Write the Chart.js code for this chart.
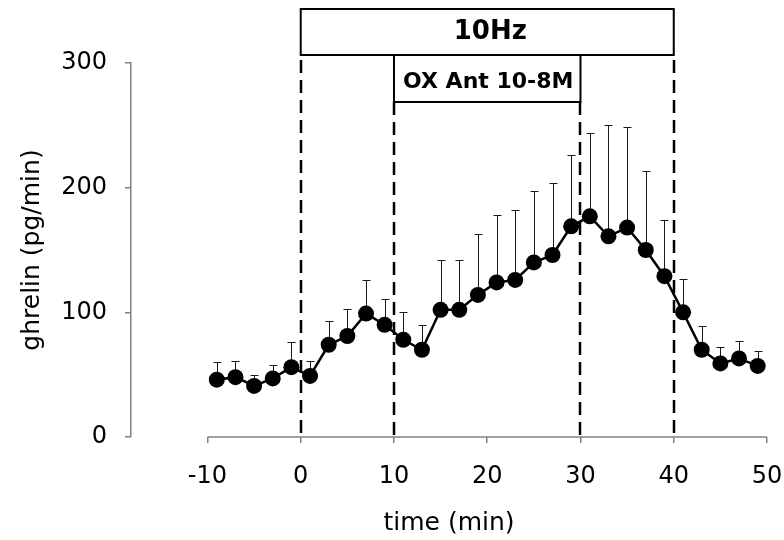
<!DOCTYPE html>
<html>
<head>
<meta charset="utf-8">
<script src="https://cdn.jsdelivr.net/npm/chart.js@4/dist/chart.umd.min.js"></script>
<style>
  html, body { margin: 0; padding: 0; background: #fff; }
  #wrap { width: 784px; height: 540px; position: relative; }
</style>
</head>
<body>
<div id="wrap"><canvas id="chart"></canvas></div>
<script>
// sampling times (min) and ghrelin output (pg/min), mean and SEM
const times = [-9, -7, -5, -3, -1, 1, 3, 5, 7, 9, 11, 13, 15, 17, 19, 21, 23, 25, 27, 29, 31, 33, 35, 37, 39, 41, 43, 45, 47, 49];
const ghrelin = [46, 48, 41, 47, 56, 49, 74, 81, 99, 90, 78, 70, 102, 102, 114, 124, 126, 140, 146, 169, 177, 161, 168, 150, 129, 100, 70, 59, 63, 57];
const sem = [14, 13, 9, 11, 20, 12, 19, 22, 27, 21, 22, 20, 40, 40, 49, 54, 56, 57, 58, 57, 67, 89, 81, 63, 45, 27, 19, 13, 14, 12];

const xTicks = [-10, 0, 10, 20, 30, 40, 50];
const yTicks = [0, 100, 200, 300];

// treatment periods (min)
const stimWindow = [0, 40];
const antWindow = [10, 30];
const stimLabel = '10Hz';
const antLabel = 'OX Ant 10-8M';

const axisGrey = '#808080';
const fontFamily = '"DejaVu Sans", sans-serif';

const periods = {
    id: 'periods',
    beforeDatasetsDraw(chart) {
        const {ctx, chartArea, scales: {x, y}} = chart;
        ctx.save();

        // x axis line only spans the labelled range
        ctx.strokeStyle = axisGrey;
        ctx.lineWidth = 1.5;
        ctx.beginPath();
        ctx.moveTo(x.getPixelForValue(xTicks[0]), chartArea.bottom);
        ctx.lineTo(x.getPixelForValue(xTicks[xTicks.length - 1]), chartArea.bottom);
        ctx.stroke();

        // dashed lines marking the periods
        ctx.strokeStyle = '#000';
        ctx.lineWidth = 2.5;
        ctx.setLineDash([13, 7]);
        const stimBottom = chartArea.top - 8;
        const antBottom = chartArea.top + 39;
        stimWindow.forEach(t => {
            const px = Math.round(x.getPixelForValue(t));
            ctx.beginPath();
            ctx.moveTo(px, stimBottom + 5);
            ctx.lineTo(px, chartArea.bottom);
            ctx.stroke();
        });
        antWindow.forEach(t => {
            const px = Math.round(x.getPixelForValue(t));
            ctx.beginPath();
            ctx.moveTo(px, antBottom);
            ctx.lineTo(px, chartArea.bottom);
            ctx.stroke();
        });
        ctx.setLineDash([]);

        // SEM error bars (upper only)
        ctx.strokeStyle = '#1a1a1a';
        ctx.lineWidth = 1;
        times.forEach((t, i) => {
            const px = Math.round(x.getPixelForValue(t)) + 0.5;
            const y0 = y.getPixelForValue(ghrelin[i]);
            const y1 = Math.round(y.getPixelForValue(ghrelin[i] + sem[i])) + 0.5;
            ctx.beginPath();
            ctx.moveTo(px, y0);
            ctx.lineTo(px, y1);
            ctx.moveTo(px - 4, y1);
            ctx.lineTo(px + 4, y1);
            ctx.stroke();
        });
        ctx.restore();
    },
    afterDraw(chart) {
        const {ctx, chartArea, scales: {x}} = chart;
        ctx.save();
        ctx.lineWidth = 2;
        ctx.strokeStyle = '#000';
        ctx.fillStyle = '#fff';
        ctx.textAlign = 'center';
        ctx.textBaseline = 'middle';

        const s0 = x.getPixelForValue(stimWindow[0]);
        const s1 = x.getPixelForValue(stimWindow[1]);
        const sTop = chartArea.top - 54, sBottom = chartArea.top - 8;
        ctx.fillRect(s0, sTop, s1 - s0, sBottom - sTop);
        ctx.strokeRect(s0, sTop, s1 - s0, sBottom - sTop);
        ctx.fillStyle = '#000';
        ctx.font = 'bold 26px ' + fontFamily;
        ctx.fillText(stimLabel, (s0 + s1) / 2 + 3, (sTop + sBottom) / 2);

        const a0 = x.getPixelForValue(antWindow[0]);
        const a1 = x.getPixelForValue(antWindow[1]);
        const aTop = sBottom, aBottom = chartArea.top + 39;
        ctx.fillStyle = '#fff';
        ctx.fillRect(a0, aTop, a1 - a0, aBottom - aTop);
        ctx.strokeRect(a0, aTop, a1 - a0, aBottom - aTop);
        ctx.fillStyle = '#000';
        ctx.font = 'bold 22px ' + fontFamily;
        ctx.fillText(antLabel, (a0 + a1) / 2 + 1, (aTop + aBottom) / 2 + 4);
        ctx.restore();
    }
};

new Chart(document.getElementById('chart'), {
    type: 'line',
    data: {
        datasets: [{
            data: times.map((t, i) => ({x: t, y: ghrelin[i]})),
            borderColor: '#000',
            borderWidth: 2.5,
            backgroundColor: '#000',
            pointRadius: 8,
            pointBorderWidth: 0,
            pointBackgroundColor: '#000',
            tension: 0
        }]
    },
    options: {
        responsive: true,
        maintainAspectRatio: false,
        animation: false,
        layout: {padding: {left: 0, right: 17, top: 63, bottom: 0}},
        plugins: {
            legend: {display: false},
            tooltip: {enabled: false}
        },
        scales: {
            x: {
                type: 'linear',
                min: -18.2,
                max: 50,
                afterBuildTicks: s => { s.ticks = xTicks.map(v => ({value: v})); },
                afterFit: s => { s.height = 103; s.paddingLeft = 0; s.paddingRight = 0; },
                grid: {drawOnChartArea: false, drawTicks: true, tickLength: 6, color: axisGrey, lineWidth: 1.5},
                border: {display: false},
                ticks: {color: '#000', padding: 19, maxRotation: 0, font: {family: fontFamily, size: 24}},
                title: {display: true, text: 'time (min)', color: '#000', padding: {top: 0, bottom: 2}, font: {family: fontFamily, size: 25}}
            },
            y: {
                min: 0,
                max: 300,
                afterBuildTicks: s => { s.ticks = yTicks.map(v => ({value: v})); },
                afterFit: s => { s.width = 131; },
                grid: {drawOnChartArea: false, drawTicks: true, tickLength: 6, color: axisGrey, lineWidth: 1.5},
                border: {display: true, color: axisGrey, width: 1.5},
                ticks: {color: '#000', padding: 18, font: {family: fontFamily, size: 24}},
                title: {display: true, text: 'ghrelin (pg/min)', color: '#000', padding: {top: 17, bottom: 0}, font: {family: fontFamily, size: 25}}
            }
        }
    },
    plugins: [periods]
});
</script>
</body>
</html>
